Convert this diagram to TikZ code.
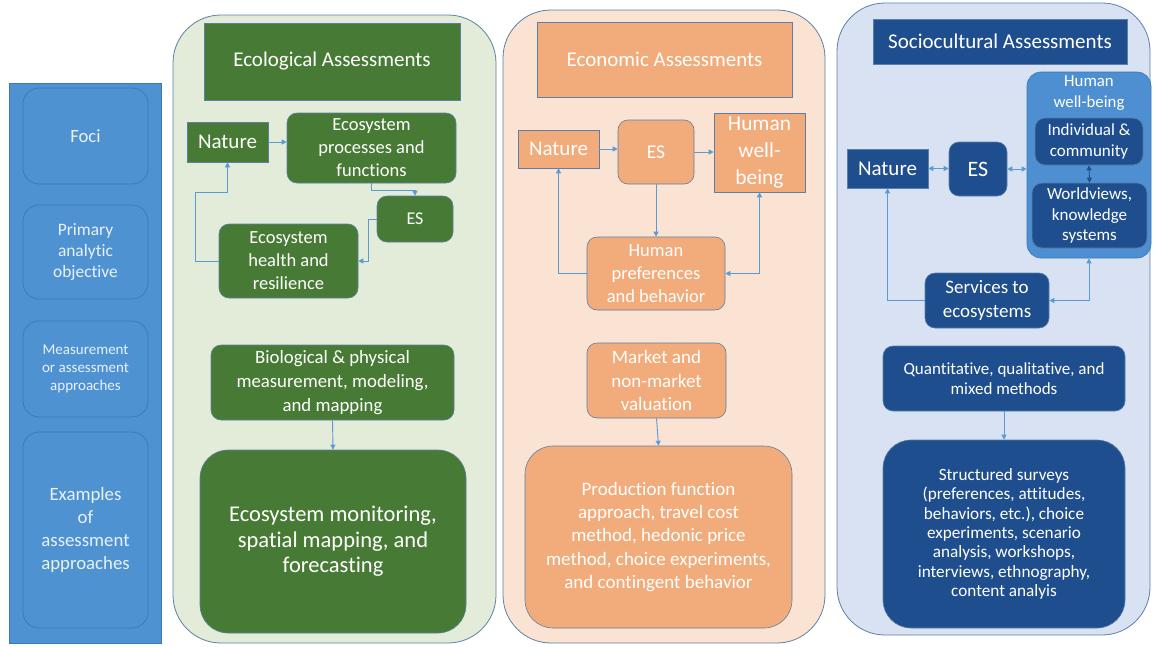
\documentclass[tikz,border=0pt]{standalone}
\usepackage{fontspec}
\setmainfont{Carlito}[Ligatures=NoCommon]
\usetikzlibrary{arrows.meta}
\definecolor{colblue}{HTML}{4E92D2}
\definecolor{colline}{HTML}{3A78B9}
\definecolor{edgeblue}{HTML}{5B7FA6}
\definecolor{arrblue}{HTML}{5B9BD5}
\definecolor{ecobg}{HTML}{E2ECD9}
\definecolor{ecogreen}{HTML}{477B35}
\definecolor{econbg}{HTML}{FBE3D4}
\definecolor{econorange}{HTML}{F2AB7A}
\definecolor{socbg}{HTML}{D9E2F2}
\definecolor{socnavy}{HTML}{1F4E8E}
\definecolor{socmid}{HTML}{4D8FD0}
\definecolor{paletext}{HTML}{EAF1FA}

\begin{document}
\begin{tikzpicture}[x=1pt,y=-1pt,
  every node/.style={text=white, align=center, inner sep=0pt},
  panel/.style={draw=edgeblue, line width=0.8pt, rounded corners=48pt},
  colbox/.style={draw=colline, fill=colblue, line width=0.7pt, rounded corners=16pt, text=paletext},
  gbox/.style={draw=edgeblue, fill=ecogreen, line width=0.6pt},
  obox/.style={draw=edgeblue, fill=econorange, line width=0.6pt},
  nbox/.style={draw=edgeblue, fill=socnavy, line width=0.6pt},
  soft/.style={rounded corners=10pt},
  softer/.style={rounded corners=28pt},
  arr/.style={draw=arrblue, line width=0.9pt, -{Triangle[length=5pt,width=5pt]}},
  dbl/.style={arr, {Triangle[length=5pt,width=5pt]}-{Triangle[length=5pt,width=5pt]}},
  ftitle/.style={font=\fontsize{21}{25}\selectfont},
  fbig/.style={font=\fontsize{21}{26}\selectfont},
  fmed/.style={font=\fontsize{18.5}{23}\selectfont},
  fsmall/.style={font=\fontsize{17}{20.5}\selectfont}]
\useasboundingbox (0,0) rectangle (1153,646);

% left column
\draw[draw=colline, fill=colblue, line width=0.7pt] (9,83) rectangle (161,643);
\node[colbox, minimum width=125, minimum height=96, font=\fontsize{18.7}{22}\selectfont] (foci) at (85.5,136) {Foci};
\node[colbox, minimum width=125, minimum height=94, font=\fontsize{17.4}{20.7}\selectfont] (prim) at (85.5,252) {Primary\\analytic\\objective};
\node[colbox, minimum width=125, minimum height=96, font=\fontsize{15}{18}\selectfont] (meas) at (85.5,369) {Measurement\\or assessment\\approaches};
\node[colbox, minimum width=125, minimum height=196, font=\fontsize{18.8}{23.3}\selectfont] (exam) at (85.5,530) {Examples\\of\\assessment\\approaches};

% ecological
\draw[panel, fill=ecobg] (173,15) rectangle (496,643);
\node[gbox, ftitle, minimum width=256, minimum height=77] (ecotitle) at (332,61.5) {Ecological Assessments};
\node[gbox, fbig, minimum width=81, minimum height=40] (enat) at (227.5,142) {Nature};
\node[gbox, soft, fmed, minimum width=169, minimum height=70] (eproc) at (371.5,148) {Ecosystem\\processes and\\functions};
\node[gbox, soft, font=\fontsize{18}{22}\selectfont, minimum width=76, minimum height=46] (ees) at (415,219) {ES};
\node[gbox, soft, fmed, minimum width=139, minimum height=74] (ehealth) at (288.5,261) {Ecosystem\\health and\\resilience};
\node[gbox, soft, font=\fontsize{18.8}{23.7}\selectfont, minimum width=243, minimum height=75] (ebio) at (332.5,382.5) {Biological \& physical\\measurement, modeling,\\and mapping};
\node[gbox, softer, font=\fontsize{22.5}{25.5}\selectfont, minimum width=266, minimum height=183] (emon) at (333,541.5) {Ecosystem monitoring,\\spatial mapping, and\\forecasting};
\draw[arr] (enat.east) -- (enat.east -| eproc.west);
\draw[arr] (eproc.south) -- ++(0,7) -| (ees.north);
\draw[arr] (ees.west) -- ++(-8,0) |- (ehealth.east);
\draw[arr] (ehealth.west) -- ++(-23,0) -- ++(0,-69) -| (enat.south);
\draw[arr] (ebio.south) -- (emon.north);

% economic
\draw[panel, fill=econbg] (503,10) rectangle (825,643);
\node[obox, ftitle, minimum width=255, minimum height=75] (ectitle) at (664.5,59.5) {Economic Assessments};
\node[obox, fbig, minimum width=81, minimum height=38] (cnat) at (558.5,149) {Nature};
\node[obox, soft, font=\fontsize{19.5}{23}\selectfont, minimum width=76, minimum height=64] (ces) at (656,152) {ES};
\node[obox, font=\fontsize{21.4}{26.7}\selectfont, minimum width=91, minimum height=79] (chwb) at (759.5,152.5) {Human\\well-\\being};
\node[obox, soft, fmed, minimum width=138, minimum height=73] (cpref) at (656,273.5) {Human\\preferences\\and behavior};
\node[obox, soft, font=\fontsize{19}{23.3}\selectfont, minimum width=139, minimum height=75] (cmkt) at (656.5,380.5) {Market and\\non-market\\valuation};
\node[obox, softer, font=\fontsize{19}{23.3}\selectfont, minimum width=267, minimum height=182] (cprod) at (658.5,537) {Production function\\approach, travel cost\\method, hedonic price\\method, choice experiments,\\and contingent behavior};
\draw[arr] (cnat.east) -- (cnat.east -| ces.west);
\draw[arr] (ces.east) -- (ces.east -| chwb.west);
\draw[arr] (ces.south) -- (cpref.north);
\draw[arr] (cpref.west) -| (cnat.south);
\draw[dbl] (cpref.east) -| (chwb.south);
\draw[arr] (cmkt.south) -- (cprod.north);

% sociocultural
\draw[panel, fill=socbg] (837,3) rectangle (1150,635);
\node[nbox, ftitle, minimum width=254, minimum height=45] (stitle) at (1000,41.5) {Sociocultural Assessments};
\node[nbox, fbig, minimum width=81, minimum height=39] (snat) at (887.5,168.5) {Nature};
\node[nbox, soft, font=\fontsize{22}{26}\selectfont, minimum width=58, minimum height=54] (ses) at (978,169) {ES};
\node[draw=colline, fill=socmid, line width=0.6pt, rounded corners=14pt, minimum width=124, minimum height=186] (shwb) at (1089,165) {};
\node[font=\fontsize{16.8}{20.5}\selectfont] (shwbtxt) at (1089,93) {Human\\well-being};
\node[nbox, soft, fsmall, minimum width=108, minimum height=47] (sind) at (1089,141.5) {Individual \&\\community};
\node[nbox, soft, fsmall, minimum width=115, minimum height=65] (swv) at (1089.5,215.5) {Worldviews,\\knowledge\\systems};
\node[nbox, soft, font=\fontsize{19}{24}\selectfont, minimum width=124, minimum height=55] (sserv) at (987,300.5) {Services to\\ecosystems};
\node[nbox, soft, fsmall, minimum width=242, minimum height=65] (squant) at (1004,378.5) {Quantitative, qualitative, and\\mixed methods};
\node[nbox, softer, font=\fontsize{17.2}{19.3}\selectfont, minimum width=242, minimum height=188] (sstruct) at (1004,534) {Structured surveys\\(preferences, attitudes,\\behaviors, etc.), choice\\experiments, scenario\\analysis, workshops,\\interviews, ethnography,\\content analyis};
\draw[dbl] (snat.east) -- (snat.east -| ses.west);
\draw[dbl] (ses.east) -- (ses.east -| shwb.west);
\draw[dbl, draw=socnavy] (sind.south) -- (swv.north);
\draw[arr] (sserv.west) -| (snat.south);
\draw[dbl] (sserv.east) -| (shwb.south);
\draw[arr] (squant.south) -- (sstruct.north);
\end{tikzpicture}
\end{document}
